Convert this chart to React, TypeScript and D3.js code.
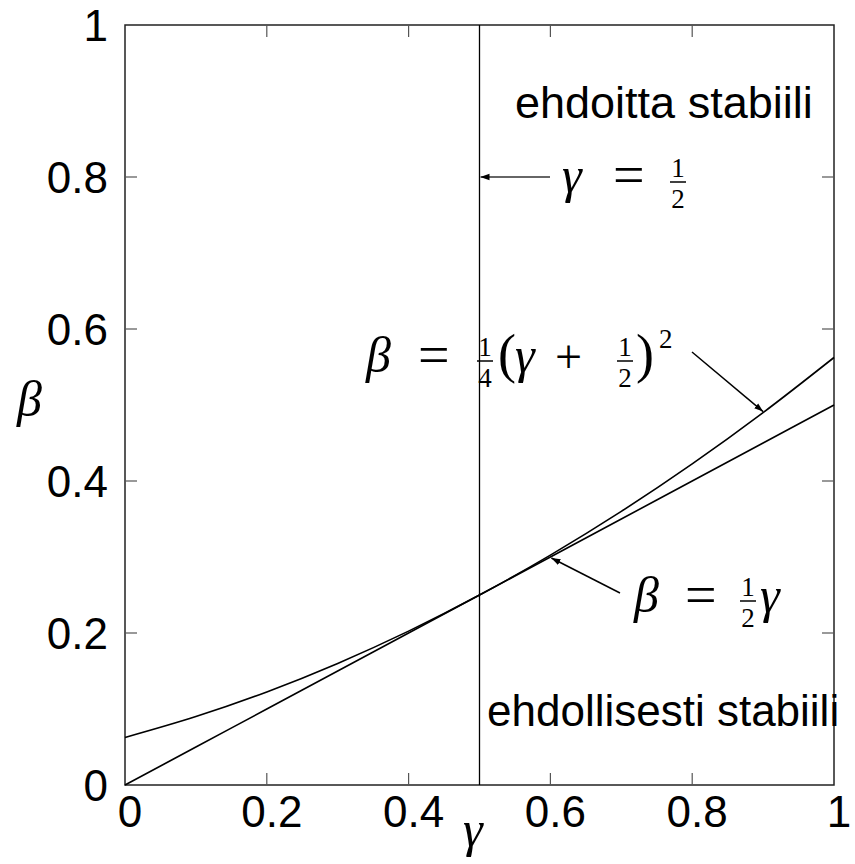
import React from "react";
import * as d3 from "d3";

const xTicks = [0, 0.2, 0.4, 0.6, 0.8, 1];
const yTicks = [0, 0.2, 0.4, 0.6, 0.8, 1];
const xTickLabels = ["0", "0.2", "0.4", "0.6", "0.8", "1"];
const yTickLabels = ["0", "0.2", "0.4", "0.6", "0.8", "1"];

const gammaSamples = [0, 0.1, 0.2, 0.3, 0.4, 0.5, 0.6, 0.7, 0.8, 0.9, 1];
const betaLinear = [0, 0.05, 0.1, 0.15, 0.2, 0.25, 0.3, 0.35, 0.4, 0.45, 0.5];
const betaQuadratic = [0.0625, 0.09, 0.1225, 0.16, 0.2025, 0.25, 0.3025, 0.36, 0.4225, 0.49, 0.5625];
const verticalGamma = 0.5;

const W = 855;
const H = 864;
const L = 125, R = 834, T = 25, B = 785;

const SANS = "'Liberation Sans', Arial, Helvetica, sans-serif";
const SERIF = "'Liberation Serif', 'Times New Roman', serif";

export default function App() {
  const x = d3.scaleLinear().domain([0, 1]).range([L, R]);
  const y = d3.scaleLinear().domain([0, 1]).range([B, T]);
  const line = d3
    .line<number>()
    .x((_, i) => x(gammaSamples[i]))
    .curve(d3.curveCatmullRom.alpha(0.5));
  const linPath = line.y((d) => y(d))(betaLinear) as string;
  const quadPath = line.y((d) => y(d))(betaQuadratic) as string;

  const greekFS = 50;
  const fracFS = 27;
  const Frac = ({ cx, axis, num, den }: { cx: number; axis: number; num: string; den: string }) => (
    <g>
      <text x={cx} y={axis - 4} textAnchor="middle" fontFamily={SERIF} fontSize={fracFS}>{num}</text>
      <line x1={cx - 8} x2={cx + 8} y1={axis + 1} y2={axis + 1} stroke="#000" strokeWidth={1.5} />
      <text x={cx} y={axis + 27} textAnchor="middle" fontFamily={SERIF} fontSize={fracFS}>{den}</text>
    </g>
  );
  const G = (props: { x: number; y: number; c: string }) => (
    <text x={props.x} y={props.y} fontFamily={SERIF} fontStyle="italic" fontSize={greekFS}>{props.c}</text>
  );
  const Op = (props: { x: number; y: number; c: string; fs: number }) => (
    <text x={props.x} y={props.y} fontFamily={SERIF} fontSize={props.fs}>{props.c}</text>
  );

  return (
    <svg width={W} height={H} style={{ position: "absolute", left: 0, top: 0, background: "#fff" }}>
      <defs>
        <marker id="arr" viewBox="0 0 10 10" refX={10} refY={5} markerWidth={9} markerHeight={9} orient="auto-start-reverse" markerUnits="userSpaceOnUse">
          <path d="M0,1.5 L10,5 L0,8.5 z" fill="#000" />
        </marker>
      </defs>
      {/* frame */}
      <rect x={L} y={T} width={R - L} height={B - T} fill="none" stroke="#222" strokeWidth={1.5} />
      {/* ticks */}
      {xTicks.map((t, i) => (
        <g key={"xt" + i}>
          {i > 0 && i < xTicks.length - 1 && (
            <>
              <line x1={x(t)} x2={x(t)} y1={B} y2={B - 12} stroke="#555" strokeWidth={1.2} />
              <line x1={x(t)} x2={x(t)} y1={T} y2={T + 12} stroke="#555" strokeWidth={1.2} />
            </>
          )}
          <text x={x(t) + 5} y={827} textAnchor="middle" fontFamily={SANS} fontSize={44}>{xTickLabels[i]}</text>
        </g>
      ))}
      {yTicks.map((t, i) => (
        <g key={"yt" + i}>
          {i > 0 && i < yTicks.length - 1 && (
            <>
              <line x1={L} x2={L + 12} y1={y(t)} y2={y(t)} stroke="#555" strokeWidth={1.2} />
              <line x1={R} x2={R - 12} y1={y(t)} y2={y(t)} stroke="#555" strokeWidth={1.2} />
            </>
          )}
          <text x={108} y={y(t) + 16} textAnchor="end" fontFamily={SANS} fontSize={44}>{yTickLabels[i]}</text>
        </g>
      ))}
      {/* curves */}
      <line x1={x(verticalGamma)} x2={x(verticalGamma)} y1={T} y2={B} stroke="#000" strokeWidth={1.3} />
      <path d={linPath} fill="none" stroke="#000" strokeWidth={1.6} />
      <path d={quadPath} fill="none" stroke="#000" strokeWidth={1.6} />

      {/* region labels */}
      <text x={515} y={118} fontFamily={SANS} fontSize={45}>ehdoitta stabiili</text>
      <text x={487} y={726} fontFamily={SANS} fontSize={44}>ehdollisesti stabiili</text>

      {/* gamma = 1/2 */}
      <line x1={550} y1={177} x2={x(verticalGamma) + 1} y2={177} stroke="#333" strokeWidth={1.3} markerEnd="url(#arr)" />
      <G x={562} y={192} c="γ" />
      <Op x={613} y={194} c="=" fs={56} />
      <Frac cx={678} axis={181} num="1" den="2" />

      {/* beta = 1/4 (gamma + 1/2)^2 */}
      <line x1={692} y1={352} x2={x(0.9)} y2={y(0.49) - 1} stroke="#000" strokeWidth={1.5} markerEnd="url(#arr)" />
      <G x={366} y={372} c="β" />
      <Op x={418} y={374} c="=" fs={56} />
      <Frac cx={485} axis={360} num="1" den="4" />
      <Op x={498} y={372} c="(" fs={54} />
      <G x={515} y={372} c="γ" />
      <Op x={555} y={373} c="+" fs={48} />
      <Frac cx={625} axis={360} num="1" den="2" />
      <Op x={636} y={372} c=")" fs={54} />
      <text x={659} y={348} fontFamily={SERIF} fontSize={fracFS}>2</text>

      {/* beta = 1/2 gamma */}
      <line x1={620} y1={593} x2={x(0.6) + 1} y2={y(0.3) + 1} stroke="#000" strokeWidth={1.5} markerEnd="url(#arr)" />
      <G x={634} y={612} c="β" />
      <Op x={685} y={614} c="=" fs={56} />
      <Frac cx={748} axis={600} num="1" den="2" />
      <G x={760} y={612} c="γ" />

      {/* axis labels */}
      <G x={17} y={416} c="β" />
      <G x={463} y={846} c="γ" />
    </svg>
  );
}
